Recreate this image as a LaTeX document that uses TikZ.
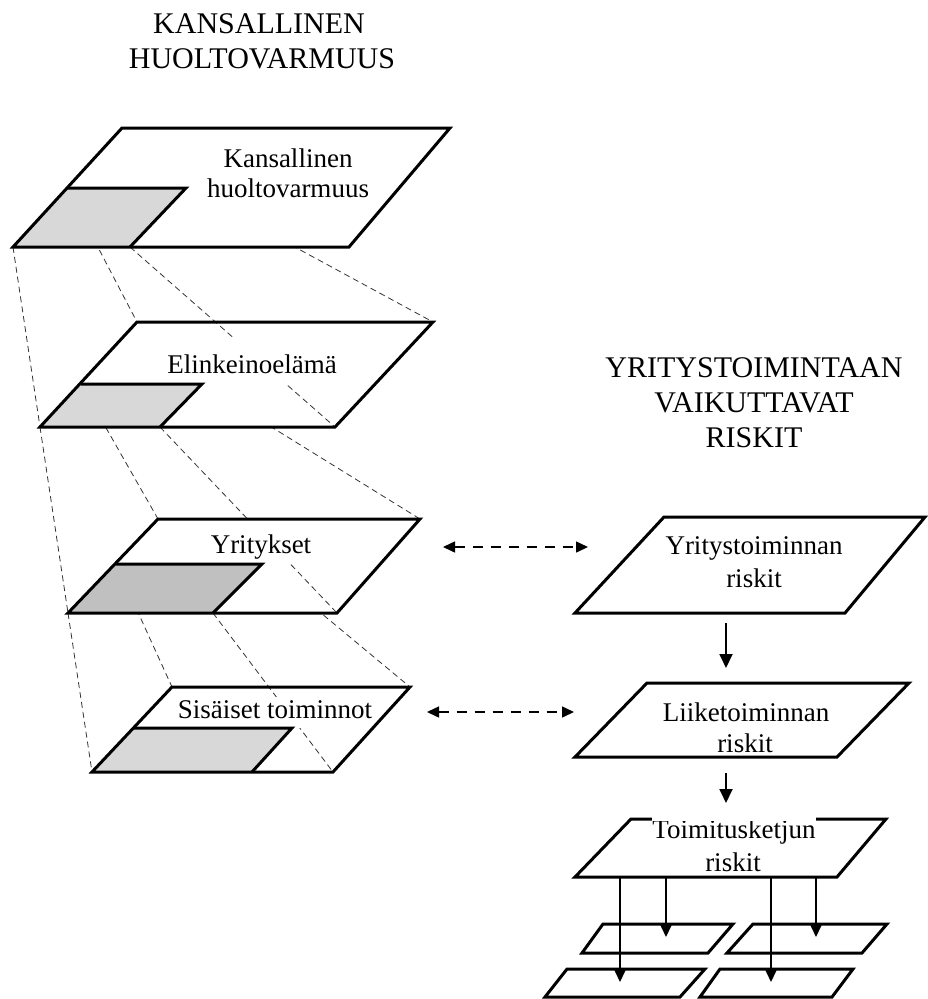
\documentclass[tikz,border=0pt]{standalone}
\usepackage{fontspec}
\setmainfont{Liberation Serif}
\usetikzlibrary{arrows.meta}
\definecolor{shadeA}{RGB}{216,216,216}
\definecolor{shadeB}{RGB}{192,192,192}
\begin{document}
\begin{tikzpicture}[x=1pt,y=-1pt,
  plate/.style={line width=3pt, line join=miter},
  proj/.style={line width=0.8pt, dash pattern=on 6pt off 4pt, black!80},
  lbl/.style={font=\fontsize{27}{31}\selectfont, inner sep=0pt, anchor=base},
  ttl/.style={font=\fontsize{30}{35}\selectfont, inner sep=0pt, anchor=base},
  link/.style={line width=1.8pt, -{Triangle[length=14pt,width=13pt]}},
  fan/.style={line width=1.5pt, -{Triangle[length=13pt,width=12pt]}},
  pair/.style={line width=1.5pt, dash pattern=on 10pt off 8pt,
    {Triangle[length=12pt,width=11pt]}-{Triangle[length=12pt,width=11pt]}},
]
\useasboundingbox (0,0) rectangle (927,999);

% ---- corners of the four stacked planes (a: top left, b: top right, c: bottom right, d: bottom left)
% ---- and of the shaded sub-area in each (d, e: bottom, f: top right, g: top left)
\coordinate (a1) at (122,128); \coordinate (b1) at (450,128);
\coordinate (c1) at (349,247); \coordinate (d1) at (13,247);
\coordinate (e1) at (130,247); \coordinate (f1) at (186,188); \coordinate (g1) at (67,188);

\coordinate (a2) at (137,322); \coordinate (b2) at (433,322);
\coordinate (c2) at (335,427); \coordinate (d2) at (40,427);
\coordinate (e2) at (160,427); \coordinate (f2) at (202,384); \coordinate (g2) at (81,384);

\coordinate (a3) at (158,519); \coordinate (b3) at (420,519);
\coordinate (c3) at (337,613); \coordinate (d3) at (68,613);
\coordinate (e3) at (213,613); \coordinate (f3) at (262,564); \coordinate (g3) at (116,564);

\coordinate (a4) at (172,687); \coordinate (b4) at (410,687);
\coordinate (c4) at (333,772); \coordinate (d4) at (92,772);
\coordinate (e4) at (252,772); \coordinate (f4) at (292,728); \coordinate (g4) at (133,728);

% ---- fills and projection lines, drawn from the bottom plane upwards
\fill[white] (a4)--(b4)--(c4)--(d4)--cycle;
\fill[shadeA] (d4)--(e4)--(f4)--(g4)--cycle;
\draw[proj] (d3)--(d4) (g3)--(a4) (e3)--(c4) (f3)--(b4);

\fill[white] (a3)--(b3)--(c3)--(d3)--cycle;
\fill[shadeB] (d3)--(e3)--(f3)--(g3)--cycle;
\draw[proj] (d2)--(d3) (g2)--(a3) (e2)--(c3) (f2)--(b3);

\fill[white] (a2)--(b2)--(c2)--(d2)--cycle;
\fill[shadeA] (d2)--(e2)--(f2)--(g2)--cycle;
\draw[proj] (d1)--(d2) (g1)--(a2) (e1)--(c2) (f1)--(b2);

\fill[white] (a1)--(b1)--(c1)--(d1)--cycle;
\fill[shadeA] (d1)--(e1)--(f1)--(g1)--cycle;

% ---- plane labels (white backing hides the projection line behind the text)
\node[lbl] (k1a) at (288,167) {Kansallinen};
\node[lbl] (k1b) at (288,197) {huoltovarmuus};
\node[lbl, fill=white, text height=36pt, text depth=10pt] (k2) at (252,373) {Elinkeinoelämä};
\node[lbl, fill=white, text height=34pt, text depth=10pt] (k3) at (261,553) {Yritykset};
\node[lbl, fill=white, text height=21pt, text depth=10pt] (k4) at (275,718) {Sisäiset toiminnot};

% ---- plane outlines
\foreach \i in {1,2,3,4} {
  \draw[plate] (a\i)--(b\i)--(c\i)--(d\i)--cycle;
  \draw[plate] (g\i)--(f\i)--(e\i);
}

% ---- titles
\node[ttl] (h1) at (259,33) {KANSALLINEN};
\node[ttl] (h2) at (262,68) {HUOLTOVARMUUS};
\node[ttl] (h3) at (754,377) {YRITYSTOIMINTAAN};
\node[ttl] (h4) at (754,412) {VAIKUTTAVAT};
\node[ttl] (h5) at (754,447) {RISKIT};

% ---- risk planes on the right
\coordinate (ra) at (664,517); \coordinate (rb) at (925,517);
\coordinate (rc) at (845,613); \coordinate (rd) at (575,613);
\coordinate (sa) at (647,683); \coordinate (sb) at (909,683);
\coordinate (sc) at (837,757); \coordinate (sd) at (575,757);
\coordinate (ta) at (631,819); \coordinate (tb) at (886,819);
\coordinate (tc) at (837,877); \coordinate (td) at (575,877);

\draw[plate, fill=white] (ra)--(rb)--(rc)--(rd)--cycle;
\draw[plate, fill=white] (sa)--(sb)--(sc)--(sd)--cycle;
\draw[plate, fill=white] (ta)--(tb)--(tc)--(td)--cycle;

\node[lbl] (y1) at (754,554) {Yritystoiminnan};
\node[lbl] (y2) at (754,587) {riskit};
\node[lbl] (l1) at (746,721) {Liiketoiminnan};
\node[lbl] (l2) at (745,752) {riskit};

% the first line sits on the top edge and is cut off there
\begin{scope}
  \clip (560,820.4) rectangle (905,905);
  \node[lbl, fill=white, text height=18pt, text depth=6pt] (tk) at (734,838) {Toimitusketjun};
\end{scope}
\coordinate (cuttop) at (0,816.8);
\coordinate (cutbot) at (0,820.6);
\fill[white] (tk.west |- cuttop) rectangle (tk.east |- cutbot);
\node[lbl] (t2) at (733,871) {riskit};

% ---- small planes below
\coordinate (ua) at (603,924); \coordinate (ub) at (733,924);
\coordinate (uc) at (708,953); \coordinate (ud) at (582,953);
\coordinate (va) at (753,924); \coordinate (vb) at (887,924);
\coordinate (vc) at (862,953); \coordinate (vd) at (727,953);
\coordinate (wa) at (567,969); \coordinate (wb) at (705,969);
\coordinate (wc) at (680,997); \coordinate (wd) at (545,997);
\coordinate (xa) at (720,969); \coordinate (xb) at (853,969);
\coordinate (xc) at (832,997); \coordinate (xd) at (700,997);
\foreach \p in {u,v,w,x}
  \draw[plate, fill=white] (\p a)--(\p b)--(\p c)--(\p d)--cycle;

% ---- connectors
\coordinate (r1s) at (726,623); \coordinate (r2e) at (726,668);
\coordinate (r2s) at (726,773); \coordinate (r3e) at (726,803);
\draw[link] (r1s) -- (r2e);
\draw[link] (r2s) -- (r3e);

\coordinate (q1s) at (620,877); \coordinate (q1e) at (620,982);
\coordinate (q2s) at (666,877); \coordinate (q2e) at (666,937);
\coordinate (q3s) at (771,877); \coordinate (q3e) at (771,982);
\coordinate (q4s) at (816,877); \coordinate (q4e) at (816,937);
\draw[fan] (q1s) -- (q1e);
\draw[fan] (q2s) -- (q2e);
\draw[fan] (q3s) -- (q3e);
\draw[fan] (q4s) -- (q4e);

\coordinate (pl1) at (443,547); \coordinate (pr1) at (588,547);
\coordinate (pl2) at (427,712); \coordinate (pr2) at (574,712);
\draw[pair] (pl1) -- (pr1);
\draw[pair] (pl2) -- (pr2);
\end{tikzpicture}
\end{document}
